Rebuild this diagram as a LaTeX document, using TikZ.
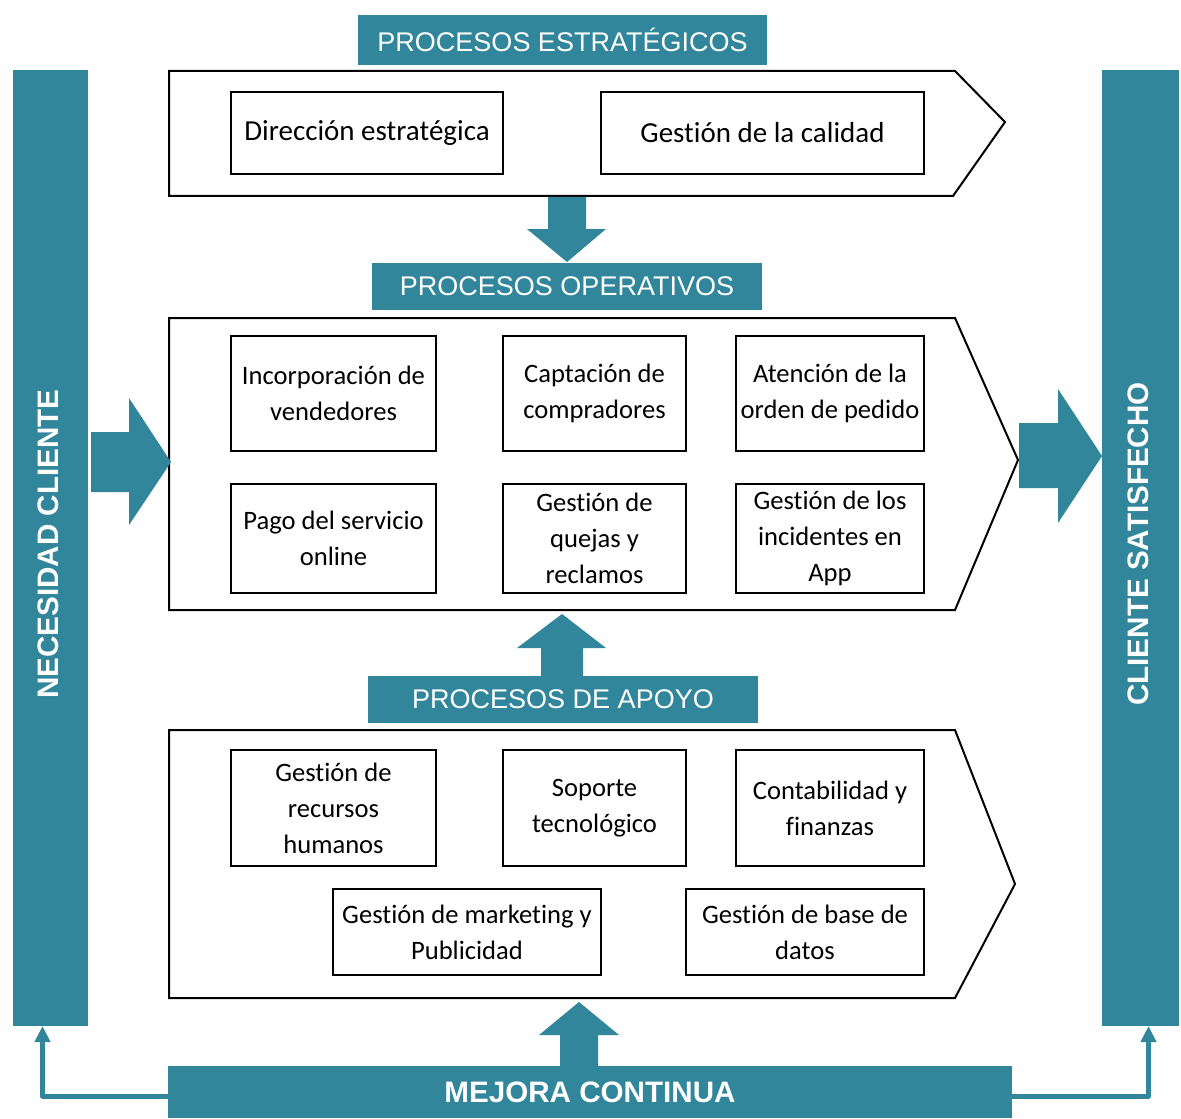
\documentclass[tikz,border=0pt]{standalone}
\usepackage{fontspec}
\setmainfont{Carlito}[Ligatures=NoCommon]
\newfontfamily\arialfont{Liberation Sans}
\usetikzlibrary{arrows.meta}
\definecolor{teal}{RGB}{49,134,155}
\begin{document}
\begin{tikzpicture}[x=0.5pt,y=-0.5pt,line join=miter,
		proc/.style={draw,line width=1pt,align=center,inner sep=0pt,outer sep=0pt,font=\fontsize{13.3}{18}\selectfont},
		bigproc/.style={proc,font=\fontsize{14.5}{18}\selectfont},
		head/.style={fill=teal,text=white,inner sep=0pt,outer sep=0pt,font=\arialfont\fontsize{13.5}{15}\selectfont},
		bar/.style={fill=teal,text=white,inner sep=0pt,outer sep=0pt,font=\arialfont\bfseries\fontsize{14.8}{17}\selectfont},
		chevron/.style={draw,line width=1pt},
		bigarrow/.style={fill=teal},
		link/.style={draw=teal,line width=2.5pt,line join=round,-{Triangle[width=7.5pt,length=8pt]}}]
	\useasboundingbox (0,0) rectangle (1181,1118);
	% columnas laterales
	\node[bar,minimum width=37.5pt,minimum height=478pt] (necesidad) at (50.5,548) {};
	\node[bar,rotate=90] at (48,544) {NECESIDAD CLIENTE};
	\node[bar,minimum width=38.5pt,minimum height=478pt] (satisfecho) at (1140.5,548) {};
	\node[bar,rotate=90] at (1138,544) {CLIENTE SATISFECHO};
	% procesos estrategicos
	\node[head,minimum width=204.5pt,minimum height=25pt] (estrategicos) at (562.5,40) {PROCESOS ESTRATÉGICOS};
	\draw[chevron] (169,71)--(955,71)--(1005,122)--(953,196)--(169,196)--cycle;
	\node[bigproc,minimum width=136pt,minimum height=41pt] (direccion) at (367,133) {Dirección estratégica};
	\node[bigproc,minimum width=161.5pt,minimum height=41pt] (calidad) at (762.5,133) {Gestión de la calidad};
	\fill[bigarrow] (548,197)--(586,197)--(586,229)--(606,229)--(567,262)--(527,229)--(548,229)--cycle;
	% procesos operativos
	\node[head,minimum width=195pt,minimum height=23.5pt] (operativos) at (567,286.5) {PROCESOS OPERATIVOS};
	\draw[chevron] (169,318)--(955,318)--(1018,460)--(955,610)--(169,610)--cycle;
	\node[proc,minimum width=102.5pt,minimum height=57.5pt] (vendedores) at (333.5,393.5) {Incorporación de\\vendedores};
	\node[proc,minimum width=91.5pt,minimum height=57.5pt] (compradores) at (594.5,393.5) {Captación de\\compradores};
	\node[proc,minimum width=94pt,minimum height=57.5pt] (pedido) at (830,393.5) {Atención de la\\orden de pedido};
	\node[proc,minimum width=102.5pt,minimum height=54.5pt] (pago) at (333.5,538.5) {Pago del servicio\\online};
	\node[proc,minimum width=91.5pt,minimum height=54.5pt] (quejas) at (594.5,538.5) {Gestión de\\quejas y\\reclamos};
	\node[proc,minimum width=94pt,minimum height=54.5pt] (incidentes) at (830,538.5) {Gestión de los\\incidentes en\\App};
	\fill[bigarrow] (562,614)--(606,648)--(583,648)--(583,676)--(541,676)--(541,648)--(517,648)--cycle;
	% procesos de apoyo
	\node[head,minimum width=195pt,minimum height=23.5pt] (apoyo) at (563,699.5) {PROCESOS DE APOYO};
	\draw[chevron] (169,730)--(955,730)--(1015,884)--(955,998)--(169,998)--cycle;
	\node[proc,minimum width=102.5pt,minimum height=58pt] (rrhh) at (333.5,808) {Gestión de\\recursos\\humanos};
	\node[proc,minimum width=91.5pt,minimum height=58pt] (soporte) at (594.5,808) {Soporte\\tecnológico};
	\node[proc,minimum width=94pt,minimum height=58pt] (finanzas) at (830,808) {Contabilidad y\\finanzas};
	\node[proc,minimum width=134pt,minimum height=43pt] (marketing) at (467,932) {Gestión de marketing y\\Publicidad};
	\node[proc,minimum width=119pt,minimum height=43pt] (datos) at (805,932) {Gestión de base de\\datos};
	\fill[bigarrow] (579,1002)--(619,1035)--(598,1035)--(598,1066)--(560,1066)--(560,1035)--(539,1035)--cycle;
	% flechas laterales
	\fill[bigarrow] (91,432)--(129,432)--(129,398)--(171,462)--(129,525)--(129,492)--(91,492)--cycle;
	\fill[bigarrow] (1019,423)--(1058,423)--(1058,389)--(1102,456)--(1058,523)--(1058,488)--(1019,488)--cycle;
	% mejora continua
	\node[bar,minimum width=422pt,minimum height=26pt] (mejora) at (590,1092) {MEJORA CONTINUA};
	\draw[link] ([yshift=-2pt]mejora.west) -| ([xshift=-4pt]necesidad.south);
	\draw[link] ([yshift=-2pt]mejora.east) -| ([xshift=4pt]satisfecho.south);
\end{tikzpicture}
\end{document}
